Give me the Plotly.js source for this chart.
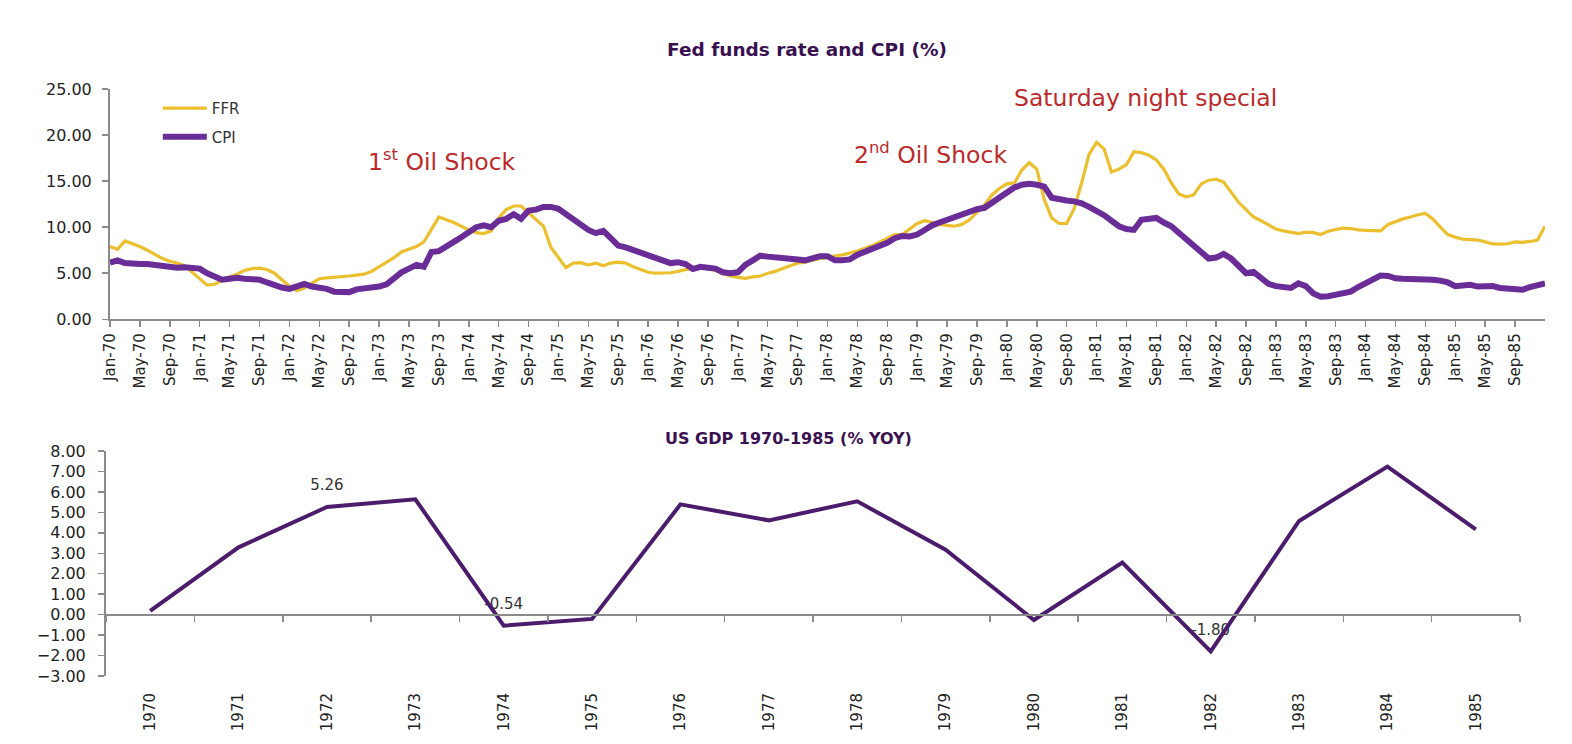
<!DOCTYPE html>
<html>
<head>
<meta charset="utf-8">
<script src="https://cdn.plot.ly/plotly-3.0.1.min.js"></script>
<style>html,body{margin:0;padding:0;background:#fff;}#chart{width:1572px;height:744px;}</style>
</head>
<body>
<div id="chart"></div>
<script>
// ---- data ----
const MONTHS = ['Jan','Feb','Mar','Apr','May','Jun','Jul','Aug','Sep','Oct','Nov','Dec'];
const FIRST_YEAR = 70;
const N_MONTHS = 193; // Jan-70 .. Jan-86
const LAST_LABELLED = 188; // Sep-85

const FFR = [
  7.9, 7.6, 8.5, 8.2, 7.9, 7.5, 7.0, 6.6, 6.3, 6.1, 5.8, 5.1,
  4.5, 3.7, 3.8, 4.2, 4.6, 4.9, 5.3, 5.5, 5.55, 5.4, 5.0, 4.3,
  3.6, 3.1, 3.4, 3.9, 4.4, 4.5, 4.55, 4.6, 4.7, 4.8, 4.9, 5.2,
  5.7, 6.1, 6.7, 7.3, 7.6, 7.9, 8.4, 9.8, 11.1, 10.8, 10.5, 10.1,
  9.7, 9.4, 9.3, 9.6, 11.0, 11.9, 12.3, 12.3, 11.6, 10.8, 10.1, 7.8,
  6.7, 5.6, 6.1, 6.15, 5.9, 6.1, 5.8, 6.1, 6.2, 6.1, 5.7, 5.4,
  5.1, 5.0, 5.0, 5.05, 5.2, 5.4, 5.5, 5.6, 5.5, 5.3, 5.0, 4.7,
  4.55, 4.45, 4.6, 4.7, 5.0, 5.2, 5.5, 5.8, 6.1, 6.2, 6.4, 6.6,
  6.7, 6.9, 7.0, 7.2, 7.4, 7.7, 8.0, 8.4, 8.8, 9.2, 9.2, 9.8,
  10.4, 10.7, 10.5, 10.3, 10.2, 10.1, 10.3, 10.8, 11.6, 12.4, 13.5, 14.2,
  14.7, 14.8, 16.2, 17.0, 16.3, 13.0, 11.0, 10.4, 10.4, 12.0, 14.8, 17.9,
  19.2, 18.5, 16.0, 16.3, 16.8, 18.2, 18.1, 17.8, 17.3, 16.3, 14.8, 13.6,
  13.3, 13.5, 14.7, 15.1, 15.2, 14.9, 13.8, 12.7, 11.9, 11.1, 10.7, 10.2,
  9.8, 9.6, 9.45, 9.3, 9.45, 9.4, 9.2, 9.55, 9.75, 9.9, 9.85, 9.7,
  9.65, 9.6, 9.6, 10.3, 10.6, 10.9, 11.1, 11.35, 11.5, 10.9, 10.0, 9.2,
  8.9, 8.7, 8.65, 8.6, 8.4, 8.18, 8.15, 8.2, 8.4, 8.35, 8.45, 8.6,
  10.1
];

const CPI = [
  6.15, 6.4, 6.1, 6.0, 6.0, 6.0, 5.9, 5.7, 5.65, 5.6, 5.65, 5.6,
  5.5, 5.0, 4.6, 4.3, 4.4, 4.5, 4.4, 4.35, 4.3, 4.0, 3.7, 3.45,
  3.3, 3.5, 3.85, 3.55, 3.5, 3.3, 3.0, 2.9, 2.95, 3.25, 3.3, 3.45,
  3.55, 3.8, 4.5, 5.1, 5.5, 5.9, 5.7, 7.3, 7.4, 8.0, 8.4, 8.9,
  9.5, 10.0, 10.2, 10.0, 10.7, 10.9, 11.4, 10.9, 11.8, 11.9, 12.2, 12.2,
  12.0, 11.4, 10.8, 10.3, 9.7, 9.35, 9.6, 8.8, 8.0, 7.8, 7.5, 7.2,
  7.0, 6.6, 6.3, 6.1, 6.2, 6.0, 5.45, 5.7, 5.6, 5.5, 5.1, 5.0,
  5.1, 5.9, 6.4, 6.9, 6.8, 6.75, 6.7, 6.7, 6.5, 6.4, 6.6, 6.85,
  6.85, 6.4, 6.4, 6.5, 7.0, 7.3, 7.6, 7.9, 8.3, 8.8, 9.05, 9.0,
  9.2, 9.7, 10.2, 10.5, 10.8, 11.1, 11.45, 11.8, 11.95, 12.1, 12.7, 13.2,
  13.9, 14.3, 14.6, 14.7, 14.6, 14.4, 13.2, 13.0, 12.9, 12.8, 12.6, 12.2,
  11.8, 11.3, 10.7, 10.1, 9.8, 9.7, 10.8, 10.9, 11.0, 10.5, 10.1, 9.4,
  8.7, 7.9, 7.2, 6.6, 6.7, 7.1, 6.6, 5.9, 5.0, 5.15, 4.4, 3.85,
  3.6, 3.45, 3.4, 3.9, 3.6, 2.8, 2.45, 2.5, 2.7, 2.85, 3.0, 3.5,
  3.9, 4.4, 4.75, 4.7, 4.45, 4.4, 4.4, 4.4, 4.4, 4.3, 4.2, 4.0,
  3.6, 3.6, 3.75, 3.55, 3.6, 3.6, 3.4, 3.3, 3.2, 3.2, 3.5, 3.7,
  3.9
];

const GDP_YEARS = ['1970','1971','1972','1973','1974','1975','1976','1977',
                   '1978','1979','1980','1981','1982','1983','1984','1985'];
const GDP = [0.19, 3.29, 5.26, 5.64, -0.54, -0.21, 5.39, 4.61,
             5.54, 3.17, -0.26, 2.54, -1.80, 4.58, 7.24, 4.17];
const GDP_LABELLED_YEARS = ['1972', '1974', '1982'];

const TOP_Y_TICKS = [0, 5, 10, 15, 20, 25];
const BOTTOM_Y_TICKS = [-3, -2, -1, 0, 1, 2, 3, 4, 5, 6, 7, 8];

// ---- derived categories / tick labels ----
const monthLabels = [];
for (let i = 0; i < N_MONTHS; i++) {
  const yy = FIRST_YEAR + Math.floor(i / 12);
  monthLabels.push(MONTHS[i % 12] + '-' + String(yy % 100).padStart(2, '0'));
}
const monthTickVals = [];
for (let i = 0; i <= LAST_LABELLED; i += 4) monthTickVals.push(monthLabels[i]);
const labelY = GDP_LABELLED_YEARS.map(y => GDP[GDP_YEARS.indexOf(y)]);
const labelText = labelY.map(v => v.toFixed(2));

// ---- style ----
const FONT = 'DejaVu Sans, Verdana, sans-serif';
const AXIS_GREY = '#8a8a8a';
const TEXT_DARK = '#222222';
const TITLE_PURPLE = '#3a1150';
const RED = '#bb2a2a';

const yTopMin = 0, yTopMax = 25;
const yBotMin = -3, yBotMax = 8;
const botDomain = [0, 0.3833];
const zeroPos = botDomain[0] + (0 - yBotMin) / (yBotMax - yBotMin) * (botDomain[1] - botDomain[0]);

const traces = [
  {
    x: monthLabels, y: FFR, name: 'FFR', type: 'scatter', mode: 'lines',
    line: {color: '#ebbf2e', width: 3.2}, xaxis: 'x', yaxis: 'y', legendgroup: 'a'
  },
  {
    x: monthLabels, y: CPI, name: 'CPI', type: 'scatter', mode: 'lines',
    line: {color: '#6a2c96', width: 6}, xaxis: 'x', yaxis: 'y', legendgroup: 'b'
  },
  {
    x: GDP_LABELLED_YEARS, y: labelY, text: labelText, type: 'scatter', mode: 'markers+text',
    textposition: 'top center', textfont: {family: FONT, size: 15, color: '#333333'},
    marker: {size: 19, color: 'rgba(0,0,0,0)'}, xaxis: 'x2', yaxis: 'y2',
    showlegend: false, hoverinfo: 'skip'
  },
  {
    x: GDP_YEARS, y: GDP, type: 'scatter', mode: 'lines', line: {width: 0, color: 'rgba(0,0,0,0)'},
    xaxis: 'x3', yaxis: 'y2', showlegend: false, hoverinfo: 'skip'
  },
  {
    x: GDP_YEARS, y: GDP, name: 'GDP', type: 'scatter', mode: 'lines',
    line: {color: '#4b1c6c', width: 4}, xaxis: 'x2', yaxis: 'y2', showlegend: false
  }
];

const xTickFont = {family: FONT, size: 15, color: TEXT_DARK};
const yTickFont = {family: FONT, size: 16, color: TEXT_DARK};

const layout = {
  width: 1572, height: 744,
  margin: {l: 106, r: 27, t: 89, b: 68},
  paper_bgcolor: '#ffffff', plot_bgcolor: '#ffffff',
  font: {family: FONT, color: TEXT_DARK},
  title: {
    text: '<b>Fed funds rate and CPI (%)</b>',
    font: {family: FONT, size: 18.5, color: TITLE_PURPLE},
    x: 807 / 1572, xanchor: 'center', y: (744 - 50) / 744, yanchor: 'middle'
  },
  showlegend: true,
  legend: {
    x: 0.036, xanchor: 'left', y: 0.995, yanchor: 'top',
    bgcolor: 'rgba(0,0,0,0)', font: {family: FONT, size: 15, color: '#333333'},
    tracegroupgap: 6, itemwidth: 44
  },
  xaxis: {
    domain: [4 / 1439, 1], anchor: 'y', type: 'category',
    range: [0, N_MONTHS - 1],
    tickmode: 'array', tickvals: monthTickVals,
    tickangle: -90, tickfont: xTickFont,
    ticks: 'outside', ticklen: 6, tickcolor: AXIS_GREY, tickwidth: 1.5,
    showline: true, linecolor: AXIS_GREY, linewidth: 2,
    showgrid: false, zeroline: false, fixedrange: true
  },
  yaxis: {
    domain: [0.6077, 1], anchor: 'x',
    range: [yTopMin, yTopMax], tickmode: 'array', tickvals: TOP_Y_TICKS,
    tickformat: '.2f', tickfont: yTickFont, ticklabelstandoff: 7,
    ticks: 'outside', ticklen: 6, tickcolor: AXIS_GREY, tickwidth: 1.5,
    showline: true, linecolor: AXIS_GREY, linewidth: 2,
    showgrid: false, zeroline: false, fixedrange: true
  },
  xaxis2: {
    domain: [0, 1414 / 1439], anchor: 'y2', type: 'category',
    categoryorder: 'array', categoryarray: GDP_YEARS,
    range: [-0.5, GDP_YEARS.length - 0.5],
    tickangle: -90, tickfont: xTickFont,
    ticks: 'outside', ticklen: 10, tickcolor: 'rgba(0,0,0,0)',
    showline: false, showgrid: false, zeroline: false, fixedrange: true
  },
  xaxis3: {
    overlaying: 'x2', anchor: 'free', position: zeroPos, type: 'category',
    categoryorder: 'array', categoryarray: GDP_YEARS,
    range: [-0.5, GDP_YEARS.length - 0.5],
    tickson: 'boundaries', ticks: 'outside', ticklen: 6, tickcolor: AXIS_GREY, tickwidth: 1.5,
    showticklabels: false, showline: true, linecolor: AXIS_GREY, linewidth: 2,
    showgrid: false, zeroline: false, fixedrange: true
  },
  yaxis2: {
    domain: botDomain, anchor: 'x2',
    range: [yBotMin, yBotMax], tickmode: 'array', tickvals: BOTTOM_Y_TICKS,
    tickformat: '.2f', tickfont: yTickFont, ticklabelstandoff: 9,
    ticks: 'outside', ticklen: 6, tickcolor: AXIS_GREY, tickwidth: 1.5,
    showline: true, linecolor: AXIS_GREY, linewidth: 2,
    showgrid: false, zeroline: false, fixedrange: true
  },
  annotations: [
    {
      text: '<b>US GDP 1970-1985 (% YOY)</b>', xref: 'paper', yref: 'paper',
      x: (788 - 106) / 1439, y: (676 - 438) / 587, xanchor: 'center', yanchor: 'middle',
      showarrow: false, font: {family: FONT, size: 16, color: TITLE_PURPLE}
    },
    {
      text: '1<sup>st</sup> Oil Shock', xref: 'paper', yref: 'paper',
      x: (442 - 106) / 1439, y: (676 - 160) / 587, xanchor: 'center', yanchor: 'middle',
      showarrow: false, font: {family: FONT, size: 23.5, color: RED}
    },
    {
      text: '2<sup>nd</sup> Oil Shock', xref: 'paper', yref: 'paper',
      x: (930 - 106) / 1439, y: (676 - 153) / 587, xanchor: 'center', yanchor: 'middle',
      showarrow: false, font: {family: FONT, size: 23.5, color: RED}
    },
    {
      text: 'Saturday night special', xref: 'paper', yref: 'paper',
      x: (1145 - 106) / 1439, y: (676 - 98) / 587, xanchor: 'center', yanchor: 'middle',
      showarrow: false, font: {family: FONT, size: 23.5, color: RED}
    }
  ]
};

Plotly.newPlot('chart', traces, layout, {displayModeBar: false, staticPlot: true});
</script>
</body>
</html>
